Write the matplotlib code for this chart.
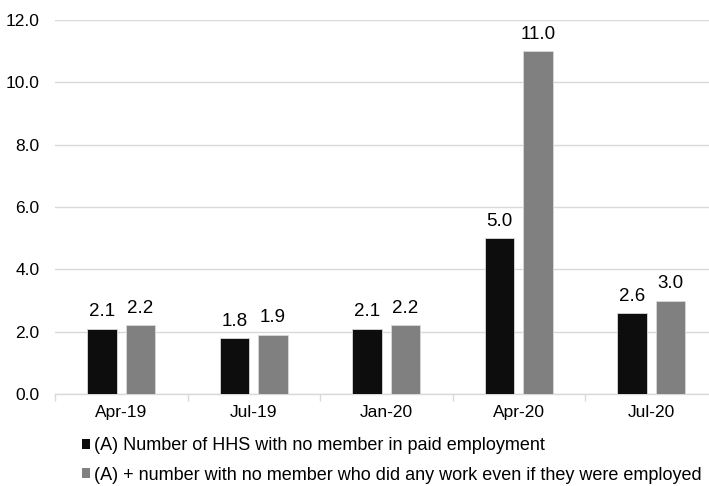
import numpy as np
import matplotlib
matplotlib.use("Agg")
import matplotlib.pyplot as plt
from matplotlib.patches import Patch

plt.rcParams["font.family"] = ["Liberation Sans", "DejaVu Sans"]

periods = ["Apr-19", "Jul-19", "Jan-20", "Apr-20", "Jul-20"]
no_paid = [2.1, 1.8, 2.1, 5.0, 2.6]
no_work = [2.2, 1.9, 2.2, 11.0, 3.0]
series_names = [
    "(A) Number of HHS with no member in paid employment",
    "(A) + number with no member who did any work even if they were employed",
]
colors = ["#0d0d0d", "#808080"]

fig = plt.figure(figsize=(7.09, 4.86), dpi=100)
ax = fig.add_axes([0.0776, 0.1893, 0.9344, 0.7695])

x = np.arange(len(periods))
w = 0.225
off = 0.145
b1 = ax.bar(x - off, no_paid, w, color=colors[0], edgecolor="#d9d9d9", linewidth=0.6, zorder=3)
b2 = ax.bar(x + off, no_work, w, color=colors[1], edgecolor="#d9d9d9", linewidth=0.6, zorder=3)
ax.bar_label(b1, fmt="%.1f", padding=6, fontsize=13.5)
ax.bar_label(b2, fmt="%.1f", padding=6, fontsize=13.5)

ax.set_xlim(-0.5, len(periods) - 0.5)
ax.set_ylim(0, 12)
ax.set_yticks(np.arange(0, 12.1, 2))
ax.set_yticklabels([f"{v:.1f}" for v in np.arange(0, 12.1, 2)])
ax.yaxis.grid(True, color="#d9d9d9", linewidth=1)
ax.set_axisbelow(True)

ax.set_xticks(x)
ax.set_xticklabels(periods)
ax.set_xticks(np.arange(-0.5, len(periods)), minor=True)
ax.tick_params(axis="x", which="major", length=0, pad=8, labelsize=12.5)
ax.tick_params(axis="x", which="minor", length=5, color="#d9d9d9", width=1)
ax.tick_params(axis="y", length=0, pad=11, labelsize=12.5)

for s in ["top", "right", "left"]:
    ax.spines[s].set_visible(False)
ax.spines["bottom"].set_color("#d9d9d9")
ax.spines["bottom"].set_linewidth(1)

handles = [Patch(facecolor=c, edgecolor="none") for c in colors]
fig.legend(handles, series_names, loc="upper left", bbox_to_anchor=(0.115, 0.1),
           frameon=False, fontsize=13, handlelength=0.45, handleheight=0.45,
           handletextpad=0.25, labelspacing=0.68, borderpad=0, borderaxespad=0)

fig.savefig("out.png", dpi=100)
